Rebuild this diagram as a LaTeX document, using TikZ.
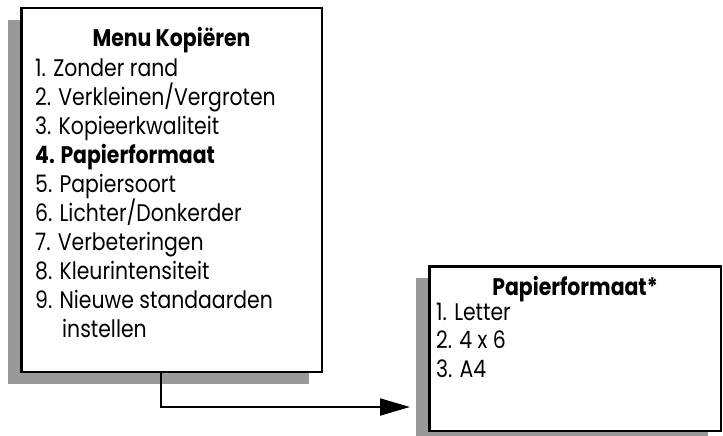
\documentclass[tikz,border=0pt]{standalone}
\usepackage{fontspec}
\setmainfont{Poppins}[FakeStretch=0.85]
\usetikzlibrary{arrows.meta,shadows}

\definecolor{schaduw}{RGB}{153,153,153}

\tikzset{
	menubox/.style={draw, line width=2.5pt, fill=white, inner sep=0pt,
		drop shadow={shadow xshift=-13pt, shadow yshift=-12pt, fill=schaduw, opacity=1}},
	regel/.style={anchor=base west, inner sep=0pt, font=\fontsize{24}{28}\selectfont},
	kop/.style={anchor=base, inner sep=0pt, font=\fontsize{24}{28}\selectfont\bfseries},
	pijl/.style={line width=2pt, -{Triangle[length=30pt, width=17pt]}}
}

\begin{document}
\begin{tikzpicture}[x=1pt, y=1pt]
	\useasboundingbox (0, 0) rectangle (723, -436);
	
	% linker menu
	\node[menubox, minimum width=300.5pt, minimum height=363.5pt] (kopieer) at (171.5, -190) {};
	\node[kop] (kopieertitel) at (171.5, -47) {Menu Kopiëren};
	\foreach \tekst [count=\i] in {1. Zonder rand, 2. Verkleinen/Vergroten, 3. Kopieerkwaliteit,
		\textbf{4. Papierformaat}, 5. Papiersoort, 6. Lichter/Donkerder, 7. Verbeteringen,
		8. Kleurintensiteit, 9. Nieuwe standaarden}
		\node[regel] (kopieer\i) at (35, -77 - 28.9*\i + 28.9) {\tekst};
	\node[regel] (kopieer10) at (62, -337) {instellen};
	
	% rechter menu
	\node[menubox, minimum width=291.5pt, minimum height=164.5pt] (papier) at (575, -348.5) {};
	\node[kop] (papiertitel) at (575, -295) {Papierformaat*};
	\node[regel] (papier1) at (436, -320) {1. Letter};
	\node[regel] (papier2) at (436, -348) {2. 4 x 6};
	\node[regel] (papier3) at (436, -377) {3. A4};
	
	\coordinate (pijlpunt) at ([xshift=-18pt, yshift=25pt]papier.south west);
	\draw[pijl] ([xshift=141pt]kopieer.south west) |- (pijlpunt);
\end{tikzpicture}
\end{document}
